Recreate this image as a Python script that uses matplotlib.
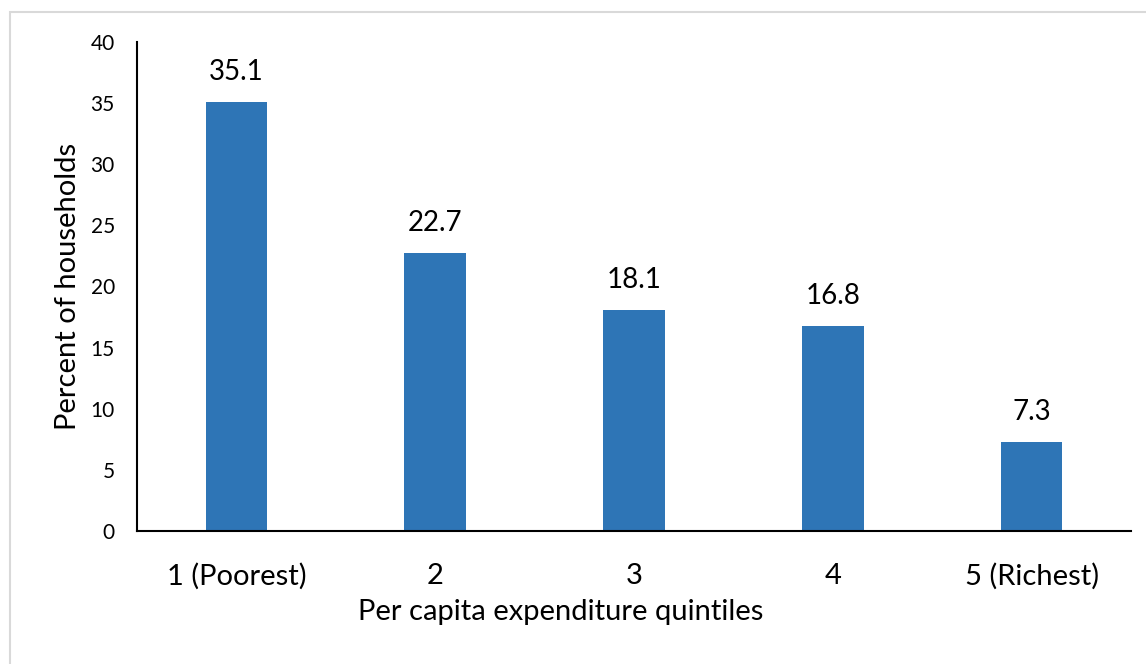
import matplotlib
matplotlib.use("Agg")
from matplotlib import pyplot as plt
from matplotlib.patches import Rectangle

categories = ["1 (Poorest)", "2", "3", "4", "5 (Richest)"]
values = [35.1, 22.7, 18.1, 16.8, 7.3]
y_ticks = [0, 5, 10, 15, 20, 25, 30, 35, 40]

plt.rcParams["font.family"] = ["Lato", "DejaVu Sans"]

fig = plt.figure(figsize=(11.46, 6.64), dpi=100)
W, H = 1146, 664

# light grey frame around the chart area
fig.patches.append(Rectangle((10 / W, -0.05), 1.1, 1 - 12 / H + 0.05,
                             transform=fig.transFigure, fill=False,
                             edgecolor="#D9D9D9", linewidth=1.5))

ax = fig.add_axes([137 / W, 1 - 531 / H, (1131 - 137) / W, (531 - 42) / H])
x = list(range(len(categories)))
bars = ax.bar(x, values, width=0.31, color="#2E75B6")

for xi, v in zip(x, values):
    ax.text(xi, v + 1.4, f"{v}", ha="center", va="bottom", fontsize=20)

ax.set_xlim(-0.5, len(categories) - 0.5)
ax.set_ylim(0, 40)
ax.set_yticks(y_ticks)
ax.set_xticks(x)
ax.set_xticklabels(categories, fontsize=21)
ax.tick_params(axis="y", labelsize=15, length=0, pad=16)
ax.tick_params(axis="x", length=0, pad=23)

for side in ["top", "right"]:
    ax.spines[side].set_visible(False)
ax.spines["left"].set_linewidth(1.5)
ax.spines["bottom"].set_linewidth(1.5)

# Excel-style axis title: sits a bit left of the plot centre
ax.set_xlabel("Per capita expenditure quintiles", fontsize=21)
ax.xaxis.set_label_coords(0.4266, -0.166)
ax.xaxis.label.set_va("center")
ax.set_ylabel("Percent of households", fontsize=21, labelpad=7)

fig.savefig("out.png", dpi=100)
